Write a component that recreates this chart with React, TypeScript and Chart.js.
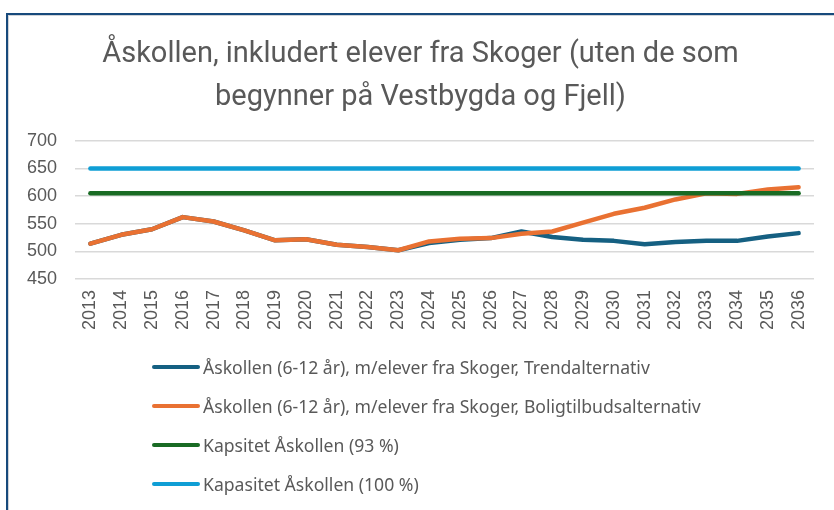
import React, { useEffect, useRef } from "react";
import { Chart, registerables } from "chart.js";

Chart.register(...registerables);

const years = [
  "2013", "2014", "2015", "2016", "2017", "2018", "2019", "2020", "2021", "2022", "2023", "2024",
  "2025", "2026", "2027", "2028", "2029", "2030", "2031", "2032", "2033", "2034", "2035", "2036",
];
const trend = [514, 530, 540, 562, 554, 538, 520, 522, 512, 508, 502, 515, 521, 524, 536, 526, 521, 519, 513, 517, 519, 519, 527, 533];
const bolig = [514, 530, 540, 562, 554, 538, 520, 522, 512, 508, 502, 518, 523, 524, 532, 536, 552, 568, 579, 594, 605, 604, 612, 616];
const kap93 = years.map(() => 605);
const kap100 = years.map(() => 650);
const seriesNames = [
  "Åskollen (6-12 år), m/elever fra Skoger, Trendalternativ",
  "Åskollen (6-12 år), m/elever fra Skoger, Boligtilbudsalternativ",
  "Kapsitet Åskollen (93 %)",
  "Kapasitet Åskollen (100 %)",
];
const seriesColors = ["#156082", "#E97132", "#196B24", "#0F9ED5"];
const titleLines = ["Åskollen, inkludert elever fra Skoger (uten de som", "begynner på Vestbygda og Fjell)"];

export default function App() {
  const ref = useRef<HTMLCanvasElement | null>(null);
  useEffect(() => {
    document.body.style.margin = "0";
    const values = [trend, bolig, kap93, kap100];
    const chart = new Chart(ref.current!, {
      type: "line",
      data: {
        labels: years,
        datasets: values.map((v, i) => ({
          label: seriesNames[i],
          data: v,
          borderColor: seriesColors[i],
          backgroundColor: seriesColors[i],
          borderWidth: 4.5,
          pointRadius: 0,
          borderCapStyle: "round" as const,
          borderJoinStyle: "round" as const,
          tension: 0,
          order: 4 - i,
        })),
      },
      options: {
        animation: false,
        responsive: false,
        layout: { padding: { left: 27, right: 20, top: 33, bottom: 177 } },
        plugins: {
          legend: { display: false },
          tooltip: { enabled: false },
          title: {
            display: true,
            text: titleLines,
            color: "#595959",
            font: { family: "Roboto", size: 29, weight: "normal", lineHeight: 1.48 },
            padding: { top: 0, bottom: 22 },
          },
        },
        scales: {
          x: {
            offset: true,
            grid: { display: false, drawTicks: false },
            border: { display: false },
            afterFit: (s: any) => { s.height = 54; },
            ticks: {
              color: "#595959",
              font: { family: "Liberation Sans", size: 18 },
              maxRotation: 90,
              minRotation: 90,
              padding: 11,
              autoSkip: false,
            },
          },
          y: {
            min: 450,
            max: 700,
            grid: { color: "#d9d9d9", lineWidth: 1.5, drawTicks: false },
            border: { display: false },
            afterFit: (s: any) => { s.width = 48; },
            ticks: {
              stepSize: 50,
              color: "#595959",
              font: { family: "Liberation Sans", size: 18 },
              padding: 18,
            },
          },
        },
      },
    });
    return () => chart.destroy();
  }, []);

  return (
    <div style={{ position: "relative", width: 834, height: 510, overflow: "hidden", background: "#fff" }}>
      <div
        style={{
          position: "absolute",
          left: 6,
          top: 13,
          width: 900,
          height: 600,
          borderTop: "2px solid #174a7c",
          borderLeft: "2px solid #174a7c",
          boxShadow: "inset 1px 1px 0 #cfd3d8",
        }}
      />
      <canvas ref={ref} width={834} height={510} style={{ position: "absolute", left: 0, top: 0 }} />
      <div style={{ position: "absolute", left: 152, top: 347, fontFamily: "Noto Sans", fontSize: 17.6, color: "#595959" }}>
        {seriesNames.map((n, i) => (
          <div key={n} style={{ display: "flex", alignItems: "center", height: 39 }}>
            <span style={{ display: "inline-block", width: 48, height: 4, borderRadius: 2, background: seriesColors[i], marginRight: 3 }} />
            <span>{n}</span>
          </div>
        ))}
      </div>
    </div>
  );
}
